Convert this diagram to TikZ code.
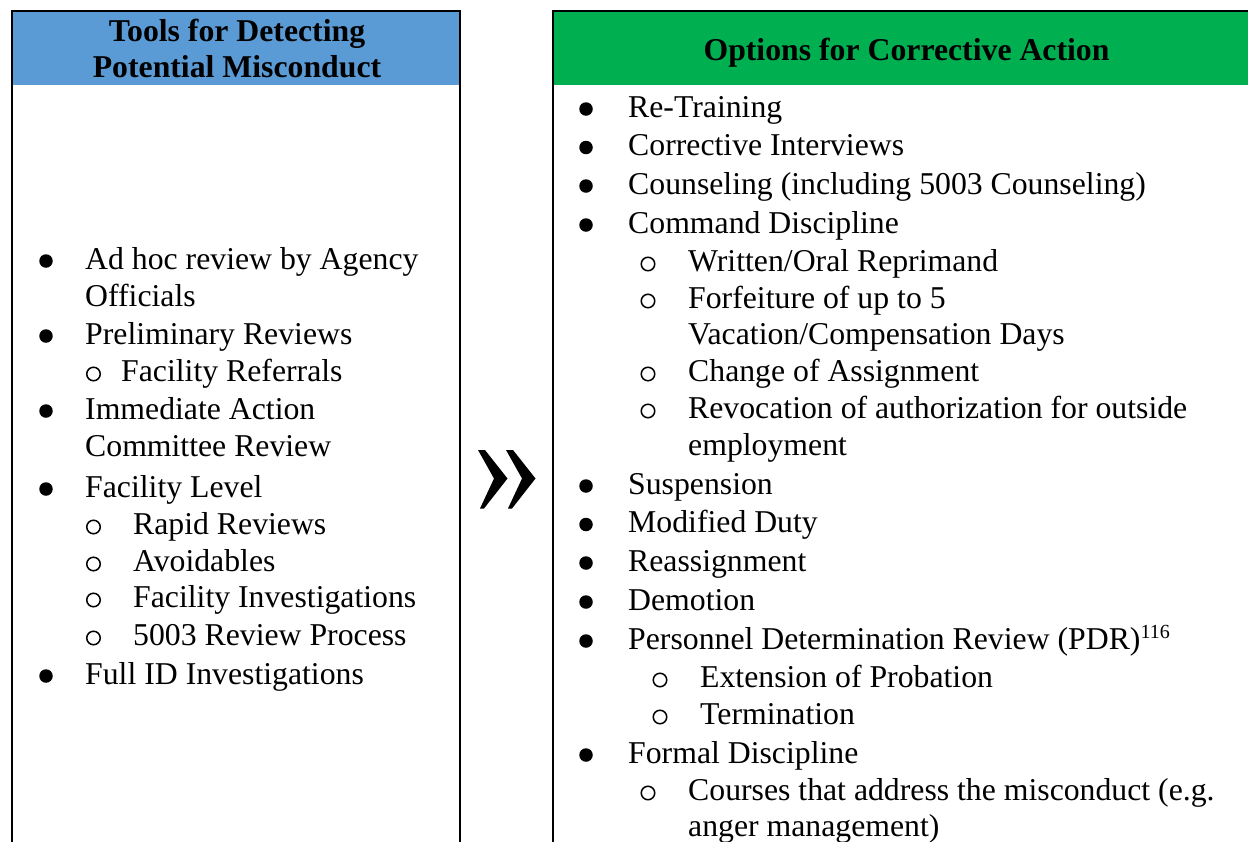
\documentclass[tikz,border=0pt]{standalone}
\usepackage{fontspec}
\setmainfont{Liberation Serif}
\definecolor{hblue}{HTML}{5B9BD5}
\definecolor{hgreen}{HTML}{00B050}
\tikzset{
  txt/.style={anchor=base west, inner sep=0pt, font=\fontsize{31.75}{36}\selectfont},
  hdr/.style={anchor=base, inner sep=0pt, font=\fontsize{31.75}{36}\selectfont\bfseries},
  bul/.style={circle, fill=black, inner sep=0pt, minimum size=13.5pt},
  subo/.style={circle, draw=black, line width=1.5pt, inner sep=0pt, minimum size=13.5pt},
  frame/.style={line width=2.3pt, draw=black},
  chev/.style={fill=black},
}
\begin{document}
\begin{tikzpicture}[x=1pt,y=-1pt]
\useasboundingbox (0,0) rectangle (1248,841);
\clip (0,0) rectangle (1248,841);
% left box
\fill[hblue] (12,11) rectangle (460,85);
\draw[frame] (12,860) -- (12,11) -- (460,11) -- (460,860);
% right box
\fill[hgreen] (553,11) rectangle (1260,85);
\draw[frame] (553,860) -- (553,11) -- (1260,11);
% headers
\node[hdr] (lh1) at (237,41.5) {Tools for Detecting};
\node[hdr] (lh2) at (237,77) {Potential Misconduct};
\node[hdr] (rh) at (906.5,60.5) {Options for Corrective Action};
% chevrons
\fill[chev] (478,450) -- (485,450) -- (507.5,478.5) -- (484,508.5) -- (480,508.5) -- (494,478.5) -- cycle;
\fill[chev] (506,450) -- (513,450) -- (535.5,478.5) -- (512,508.5) -- (508,508.5) -- (522,478.5) -- cycle;
% left list
\node[bul] (lb1) at (46,261) {};
\node[txt] (l1) at (85,269) {Ad hoc review by Agency};
\node[txt] (l1b) at (85,306) {Officials};
\node[bul] (lb2) at (46,336) {};
\node[txt] (l2) at (85,344) {Preliminary Reviews};
\node[subo] (lo21) at (93.5,374) {};
\node[txt] (l21) at (121,381) {Facility Referrals};
\node[bul] (lb3) at (46,411) {};
\node[txt] (l3) at (85,419) {Immediate Action};
\node[txt] (l3b) at (85,456) {Committee Review};
\node[bul] (lb4) at (46,489) {};
\node[txt] (l4) at (85,497) {Facility Level};
\node[subo] (lo41) at (93.5,527) {};
\node[txt] (l41) at (133,534) {Rapid Reviews};
\node[subo] (lo42) at (93.5,564) {};
\node[txt] (l42) at (133,571) {Avoidables};
\node[subo] (lo43) at (93.5,600) {};
\node[txt] (l43) at (133,607) {Facility Investigations};
\node[subo] (lo44) at (93.5,638) {};
\node[txt] (l44) at (133,645) {5003 Review Process};
\node[bul] (lb5) at (46,676) {};
\node[txt] (l5) at (85,684) {Full ID Investigations};
% right list
\node[bul] (rb1) at (586,109) {};
\node[txt] (r1) at (628,117) {Re-Training};
\node[bul] (rb2) at (586,147.5) {};
\node[txt] (r2) at (628,155.5) {Corrective Interviews};
\node[bul] (rb3) at (586,186) {};
\node[txt] (r3) at (628,194) {Counseling (including 5003 Counseling)};
\node[bul] (rb4) at (586,225) {};
\node[txt] (r4) at (628,233) {Command Discipline};
\node[subo] (ro41) at (648,264) {};
\node[txt] (r41) at (688,271) {Written/Oral Reprimand};
\node[subo] (ro42) at (648,301) {};
\node[txt] (r42) at (688,308) {Forfeiture of up to 5};
\node[txt] (r42b) at (688,344) {Vacation/Compensation Days};
\node[subo] (ro43) at (648,374) {};
\node[txt] (r43) at (688,381) {Change of Assignment};
\node[subo] (ro44) at (648,411) {};
\node[txt] (r44) at (688,418) {Revocation of authorization for outside};
\node[txt] (r44b) at (688,455) {employment};
\node[bul] (rb5) at (586,486) {};
\node[txt] (r5) at (628,494) {Suspension};
\node[bul] (rb6) at (586,524.5) {};
\node[txt] (r6) at (628,532.5) {Modified Duty};
\node[bul] (rb7) at (586,563) {};
\node[txt] (r7) at (628,571) {Reassignment};
\node[bul] (rb8) at (586,602) {};
\node[txt] (r8) at (628,610) {Demotion};
\node[bul] (rb9) at (586,641) {};
\node[txt] (r9) at (628,649) {Personnel Determination Review (PDR)\raisebox{11pt}{\fontsize{20}{20}\selectfont 116}};
\node[subo] (ro91) at (660,680) {};
\node[txt] (r91) at (700,687) {Extension of Probation};
\node[subo] (ro92) at (660,717) {};
\node[txt] (r92) at (700,724) {Termination};
\node[bul] (rb10) at (586,755) {};
\node[txt] (r10) at (628,763) {Formal Discipline};
\node[subo] (ro101) at (648,793) {};
\node[txt] (r101) at (688,800) {Courses that address the misconduct (e.g.};
\node[txt] (r101b) at (688,836) {anger management)};
\end{tikzpicture}
\end{document}
